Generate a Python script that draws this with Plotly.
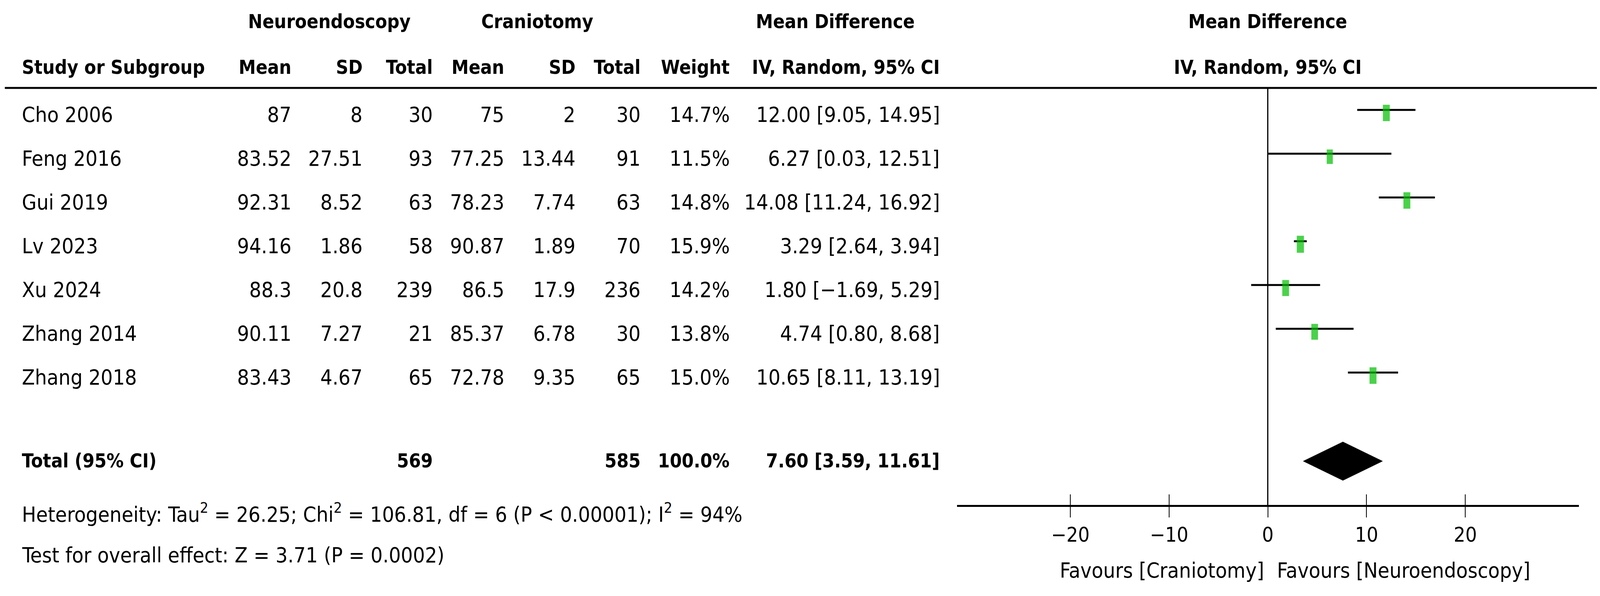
import plotly.graph_objects as go

# --- datos del forest plot ---
studies = ["Cho 2006", "Feng 2016", "Gui 2019", "Lv 2023", "Xu 2024", "Zhang 2014", "Zhang 2018"]
neuro_mean = [87, 83.52, 92.31, 94.16, 88.3, 90.11, 83.43]
neuro_sd = [8, 27.51, 8.52, 1.86, 20.8, 7.27, 4.67]
neuro_n = [30, 93, 63, 58, 239, 21, 65]
cran_mean = [75, 77.25, 78.23, 90.87, 86.5, 85.37, 72.78]
cran_sd = [2, 13.44, 7.74, 1.89, 17.9, 6.78, 9.35]
cran_n = [30, 91, 63, 70, 236, 30, 65]
weights = [14.7, 11.5, 14.8, 15.9, 14.2, 13.8, 15.0]
md = [12.00, 6.27, 14.08, 3.29, 1.80, 4.74, 10.65]
ci_lo = [9.05, 0.03, 11.24, 2.64, -1.69, 0.80, 8.11]
ci_hi = [14.95, 12.51, 16.92, 3.94, 5.29, 8.68, 13.19]

total_neuro_n = 569
total_cran_n = 585
total_weight = 100.0
total_md = 7.60
total_lo = 3.59
total_hi = 11.61

heterogeneity = "Heterogeneity: Tau<sup>2</sup> = 26.25; Chi<sup>2</sup> = 106.81, df = 6 (P < 0.00001); I<sup>2</sup> = 94%"
overall_test = "Test for overall effect: Z = 3.71 (P = 0.0002)"
favours_left = "Favours [Craniotomy]"
favours_right = "Favours [Neuroendoscopy]"
tick_vals = [-20, -10, 0, 10, 20]

# la ventana real del navegador queda en 4096 px de ancho: se comprime en x
REF_W, REF_H = 6961, 1525
VIEW_W = 4096
BODY = 8                      # margen del <body>
W, H = VIEW_W - 2 * BODY, REF_H - 2 * BODY
SX = VIEW_W / REF_W

FONT = "DejaVu Sans Condensed"
FS = 54
FSB = 49
GREEN = "#00c000"

# geometría (pixeles de la referencia)
ROW0_PX, ROW_STEP = 289, 112
TOP_PX, AXIS_PX = 225, 1292
TOTAL_ROW = 7.955


def px(x):
    return (x * SX - BODY) / W


def py(y):
    return 1 - (y - BODY) / H


def fmt(v):
    return str(v)


def neg(s):
    return s.replace("-", "\u2212")


fig = go.Figure()

# líneas de IC
for i in range(len(studies)):
    fig.add_trace(go.Scatter(
        x=[ci_lo[i], ci_hi[i]], y=[i - 0.07, i - 0.07],
        mode="lines", line=dict(color="black", width=5),
        showlegend=False, hoverinfo="skip",
    ))

# cuadrados por peso (rectángulo: la referencia queda comprimida en x)
box = [7.8 * w ** 0.5 for w in weights]
fig.add_trace(go.Scatter(
    x=md, y=list(range(len(studies))),
    mode="markers",
    marker=dict(symbol="line-ns", size=box,
                line=dict(width=[b * SX for b in box], color=GREEN)),
    showlegend=False,
))

# diamante total
h = 0.44
fig.add_trace(go.Scatter(
    x=[total_lo, total_md, total_hi, total_md, total_lo],
    y=[TOTAL_ROW, TOTAL_ROW - h, TOTAL_ROW, TOTAL_ROW + h, TOTAL_ROW],
    mode="lines", fill="toself", fillcolor="black",
    line=dict(color="black", width=1), showlegend=False,
))

# eje auxiliar para las marcas hacia adentro
fig.add_trace(go.Scatter(x=[0], y=[0], xaxis="x2", mode="markers",
                         marker=dict(opacity=0), showlegend=False, hoverinfo="skip"))

ann = []


def txt(x, y, text, anchor="right", bold=False, yref="paper", size=None):
    ann.append(dict(
        x=px(x), y=y, xref="paper", yref=yref, text=f"<b>{text}</b>" if bold else text,
        showarrow=False, xanchor=anchor, yanchor="middle",
        font=dict(family=FONT, size=size or (FSB if bold else FS), color="black"),
    ))


cols = [1271, 1580, 1887, 2197, 2507, 2790, 3178, 4092]
LEFT = 92

# encabezados
txt(1432, py(56), "Neuroendoscopy", "center", True)
txt(2337, py(56), "Craniotomy", "center", True)
txt(3635, py(56), "Mean Difference", "center", True)
txt(5516, py(56), "Mean Difference", "center", True)
txt(LEFT, py(172), "Study or Subgroup", "left", True)
for c, lab in zip(cols, ["Mean", "SD", "Total", "Mean", "SD", "Total", "Weight", "IV, Random, 95% CI"]):
    txt(c, py(172), lab, "right", True)
txt(5516, py(172), "IV, Random, 95% CI", "center", True)

# filas de estudios
for i, s in enumerate(studies):
    y = i + 0.04
    txt(LEFT, y, s, "left", yref="y")
    vals = [fmt(neuro_mean[i]), fmt(neuro_sd[i]), fmt(neuro_n[i]),
            fmt(cran_mean[i]), fmt(cran_sd[i]), fmt(cran_n[i]),
            f"{weights[i]:.1f}%",
            neg(f"{md[i]:.2f} [{ci_lo[i]:.2f}, {ci_hi[i]:.2f}]")]
    for c, v in zip(cols, vals):
        txt(c, y, v, "right", yref="y")

# fila total
txt(LEFT, TOTAL_ROW, "Total (95% CI)", "left", True, yref="y")
txt(cols[2], TOTAL_ROW, str(total_neuro_n), "right", True, yref="y")
txt(cols[5], TOTAL_ROW, str(total_cran_n), "right", True, yref="y")
txt(cols[6], TOTAL_ROW, f"{total_weight:.1f}%", "right", True, yref="y")
txt(cols[7], TOTAL_ROW, f"{total_md:.2f} [{total_lo:.2f}, {total_hi:.2f}]", "right", True, yref="y")

# pie
txt(LEFT, py(1312), heterogeneity, "left")
txt(LEFT, py(1420), overall_test, "left")

# etiquetas favours
ann.append(dict(x=0, y=py(1459), xref="x", yref="paper", text=favours_left, showarrow=False,
                xanchor="right", yanchor="middle", xshift=-8,
                font=dict(family=FONT, size=FS, color="black")))
ann.append(dict(x=0, y=py(1459), xref="x", yref="paper", text=favours_right, showarrow=False,
                xanchor="left", yanchor="middle", xshift=21,
                font=dict(family=FONT, size=FS, color="black")))

x0, x1 = 4163, 6869
xrange = [-31.5, 31.5]
yrange = [(AXIS_PX - ROW0_PX) / ROW_STEP, (TOP_PX - ROW0_PX) / ROW_STEP]

fig.update_layout(
    width=W, height=H,
    margin=dict(l=0, r=0, t=0, b=0),
    paper_bgcolor="white", plot_bgcolor="white",
    annotations=ann,
    shapes=[dict(type="line", xref="paper", yref="paper", x0=px(21), x1=1,
                 y0=py(TOP_PX), y1=py(TOP_PX), line=dict(color="black", width=5))],
    xaxis=dict(
        domain=[px(x0), px(x1)], range=xrange, showgrid=False,
        zeroline=True, zerolinecolor="black", zerolinewidth=3,
        showline=True, linecolor="black", linewidth=5,
        ticks="outside", ticklen=27, tickwidth=2, tickcolor="black",
        tickvals=tick_vals, tickfont=dict(family=FONT, size=52, color="black"),
        fixedrange=True,
    ),
    xaxis2=dict(
        domain=[px(x0), px(x1)], range=xrange, overlaying="x", anchor="y",
        showgrid=False, zeroline=False, showline=False,
        ticks="inside", ticklen=27, tickwidth=2, tickcolor="black",
        tickvals=tick_vals, showticklabels=False,
    ),
    yaxis=dict(
        domain=[py(AXIS_PX), py(TOP_PX)], range=yrange, visible=False, fixedrange=True,
    ),
    font=dict(family=FONT),
)

fig.write_html("out.html")
